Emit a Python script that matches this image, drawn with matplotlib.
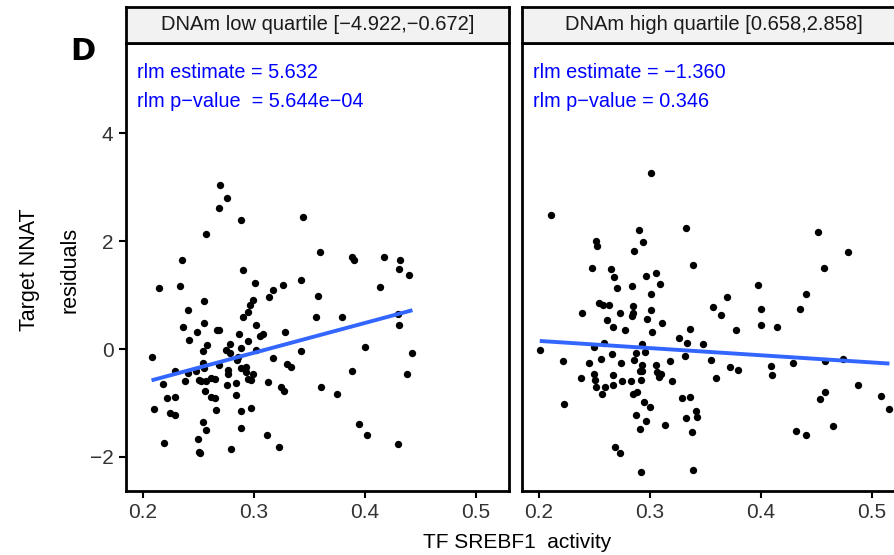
import numpy as np
import matplotlib
matplotlib.use("Agg")
import matplotlib.pyplot as plt

plt.rcParams["font.family"] = ["Liberation Sans", "DejaVu Sans"]

# facet labels / annotations
strip_labels = ["DNAm low quartile [\u22124.922,\u22120.672]",
                "DNAm high quartile [0.658,2.858]"]
annot_est = ["rlm estimate = 5.632", "rlm estimate = \u22121.360"]
annot_pval = ["rlm p\u2212value  = 5.644e\u221204", "rlm p\u2212value = 0.346"]

xticks = [0.2, 0.3, 0.4, 0.5]
yticks = [-2, 0, 2, 4]

# low quartile panel
low_x = [0.270, 0.276, 0.269, 0.289, 0.344, 0.257, 0.235, 0.360, 0.389, 0.390,
         0.417, 0.432, 0.431, 0.440, 0.290, 0.215, 0.234, 0.301, 0.326, 0.317,
         0.314, 0.343, 0.358, 0.414, 0.255, 0.299, 0.297, 0.295, 0.290, 0.241,
         0.255, 0.236, 0.249, 0.267, 0.269, 0.287, 0.302, 0.308, 0.306, 0.328,
         0.356, 0.380, 0.430, 0.431, 0.242, 0.258, 0.254, 0.279, 0.275, 0.279,
         0.289, 0.295, 0.302, 0.208, 0.254, 0.286, 0.285, 0.269, 0.317, 0.343,
         0.400, 0.443, 0.229, 0.241, 0.248, 0.255, 0.277, 0.277, 0.289, 0.293,
         0.293, 0.299, 0.295, 0.298, 0.330, 0.334, 0.218, 0.238, 0.251, 0.253,
         0.257, 0.262, 0.265, 0.276, 0.284, 0.313, 0.325, 0.327, 0.361, 0.375,
         0.389, 0.438, 0.222, 0.229, 0.256, 0.262, 0.265, 0.284, 0.210, 0.225,
         0.229, 0.266, 0.289, 0.298, 0.254, 0.257, 0.289, 0.395, 0.402, 0.312,
         0.250, 0.219, 0.251, 0.252, 0.280, 0.323, 0.430]
low_y = [3.04, 2.80, 2.62, 2.39, 2.44, 2.13, 1.65, 1.79, 1.70, 1.65,
         1.70, 1.65, 1.48, 1.38, 1.46, 1.14, 1.17, 1.23, 1.18, 1.09,
         0.96, 1.28, 0.98, 1.15, 0.89, 0.90, 0.81, 0.69, 0.60, 0.72,
         0.48, 0.40, 0.31, 0.36, 0.35, 0.27, 0.45, 0.27, 0.25, 0.32,
         0.59, 0.59, 0.64, 0.44, 0.17, 0.07, -0.04, 0.10, -0.02, -0.07,
         0.02, 0.14, -0.01, -0.14, -0.25, -0.14, -0.21, -0.30, -0.17, -0.04,
         0.04, -0.08, -0.41, -0.44, -0.41, -0.36, -0.38, -0.47, -0.36, -0.34,
         -0.42, -0.46, -0.56, -0.57, -0.27, -0.33, -0.64, -0.59, -0.57, -0.60,
         -0.59, -0.54, -0.56, -0.67, -0.62, -0.61, -0.70, -0.78, -0.70, -0.83,
         -0.40, -0.46, -0.91, -0.89, -0.78, -0.88, -0.91, -0.86, -1.12, -1.19,
         -1.23, -1.13, -1.14, -1.09, -1.36, -1.50, -1.46, -1.39, -1.60, -1.59,
         -1.66, -1.74, -1.90, -1.93, -1.86, -1.81, -1.75]

# high quartile panel
high_x = [0.301, 0.211, 0.290, 0.333, 0.452, 0.252, 0.253, 0.294, 0.286, 0.479,
          0.339, 0.457, 0.248, 0.265, 0.268, 0.297, 0.306, 0.309, 0.271, 0.284,
          0.301, 0.398, 0.370, 0.441, 0.254, 0.258, 0.263, 0.285, 0.285, 0.284,
          0.301, 0.239, 0.273, 0.298, 0.311, 0.262, 0.267, 0.278, 0.302, 0.357,
          0.364, 0.400, 0.435, 0.378, 0.400, 0.415, 0.336, 0.326, 0.334, 0.348,
          0.259, 0.250, 0.293, 0.288, 0.296, 0.201, 0.222, 0.245, 0.256, 0.266,
          0.274, 0.286, 0.293, 0.293, 0.306, 0.307, 0.310, 0.308, 0.318, 0.332,
          0.355, 0.372, 0.380, 0.409, 0.410, 0.429, 0.458, 0.474, 0.238, 0.250,
          0.251, 0.252, 0.260, 0.257, 0.267, 0.267, 0.275, 0.283, 0.292, 0.291,
          0.360, 0.320, 0.285, 0.289, 0.295, 0.300, 0.329, 0.336, 0.288, 0.297,
          0.291, 0.223, 0.333, 0.342, 0.343, 0.338, 0.314, 0.488, 0.453, 0.458,
          0.508, 0.516, 0.465, 0.432, 0.441, 0.269, 0.273, 0.292, 0.339]
high_y = [3.27, 2.49, 2.20, 2.25, 2.16, 2.00, 1.90, 1.98, 1.81, 1.80,
          1.55, 1.51, 1.50, 1.48, 1.34, 1.36, 1.41, 1.21, 1.14, 1.17,
          1.02, 1.19, 0.96, 1.02, 0.85, 0.82, 0.82, 0.80, 0.67, 0.62,
          0.72, 0.67, 0.67, 0.56, 0.48, 0.53, 0.41, 0.35, 0.31, 0.78,
          0.63, 0.74, 0.75, 0.36, 0.44, 0.41, 0.38, 0.21, 0.12, 0.10,
          0.12, 0.03, 0.10, -0.07, -0.06, -0.02, -0.23, -0.25, -0.19, -0.10,
          -0.25, -0.20, -0.30, -0.40, -0.30, -0.42, -0.46, -0.51, -0.23, -0.12,
          -0.20, -0.33, -0.39, -0.31, -0.48, -0.26, -0.23, -0.18, -0.54, -0.47,
          -0.57, -0.71, -0.71, -0.84, -0.48, -0.67, -0.59, -0.60, -0.57, -0.40,
          -0.54, -0.59, -0.83, -0.79, -0.99, -1.07, -0.91, -0.88, -1.23, -1.33,
          -1.48, -1.01, -1.28, -1.15, -1.25, -1.53, -1.41, -0.67, -0.92, -0.80,
          -0.87, -1.12, -1.43, -1.52, -1.60, -1.82, -1.93, -2.28, -2.24]

# fitted rlm lines (intercept, slope)
fit_low = (-1.73, 5.53)
fit_high = (0.417, -1.33)

panels = [(low_x, low_y, fit_low), (high_x, high_y, fit_high)]

W, H = 895, 555
fig = plt.figure(figsize=(W / 100, H / 100), dpi=100)
fig.patch.set_facecolor("white")

panel_left = [126, 522]
panel_w = 383
top, bottom, strip_top = 43, 491, 7
lw_border = 2.0

for i, (xs, ys, (b0, b1)) in enumerate(panels):
    l = panel_left[i]
    ax = fig.add_axes([l / W, (H - bottom) / H, panel_w / W, (bottom - top) / H])
    ax.scatter(xs, ys, s=28, color="black", linewidths=0, zorder=3)
    xx = np.array([min(xs), max(xs)])
    ax.plot(xx, b0 + b1 * xx, color="#3366FF", lw=2.8, zorder=4,
            solid_capstyle="butt")
    ax.set_xlim(0.185, 0.530)
    ax.set_ylim(-2.63, 5.67)
    ax.set_xticks(xticks)
    ax.set_xticklabels([f"{t:.1f}" for t in xticks])
    ax.tick_params(axis="both", length=5, width=1.5, color="black",
                   labelsize=15, labelcolor="#333333", pad=4)
    if i == 0:
        ax.set_yticks(yticks)
        ax.set_yticklabels([f"{t:d}".replace("-", "\u2212") for t in yticks])
    else:
        ax.set_yticks([])
    for sp in ax.spines.values():
        sp.set_linewidth(lw_border)
        sp.set_color("black")
    ax.text(0.028, 0.935, annot_est[i], transform=ax.transAxes, color="blue",
            fontsize=14.3, va="center", ha="left")
    ax.text(0.028, 0.870, annot_pval[i], transform=ax.transAxes, color="blue",
            fontsize=14.3, va="center", ha="left")

    # facet strip
    sax = fig.add_axes([l / W, (H - top) / H, panel_w / W, (top - strip_top) / H])
    sax.set_facecolor("#f2f2f2")
    sax.set_xticks([])
    sax.set_yticks([])
    for sp in sax.spines.values():
        sp.set_linewidth(lw_border)
        sp.set_color("black")
    sax.text(0.5, 0.5, strip_labels[i], transform=sax.transAxes,
             ha="center", va="center", fontsize=14.5, color="#1a1a1a")

fig.text(83 / W, 1 - 52 / H, "D", fontsize=22, fontweight="bold",
         family="DejaVu Sans", ha="center", va="center")
fig.text(517 / W, 1 - 543 / H, "TF SREBF1  activity", fontsize=15,
         ha="center", va="center")
fig.text(30 / W, 1 - 270 / H, "Target NNAT", fontsize=15.5, rotation=90,
         ha="center", va="center")
fig.text(70 / W, 1 - 270 / H, "residuals", fontsize=15.5, rotation=90,
         ha="center", va="center")

fig.savefig("out.png", dpi=100)
